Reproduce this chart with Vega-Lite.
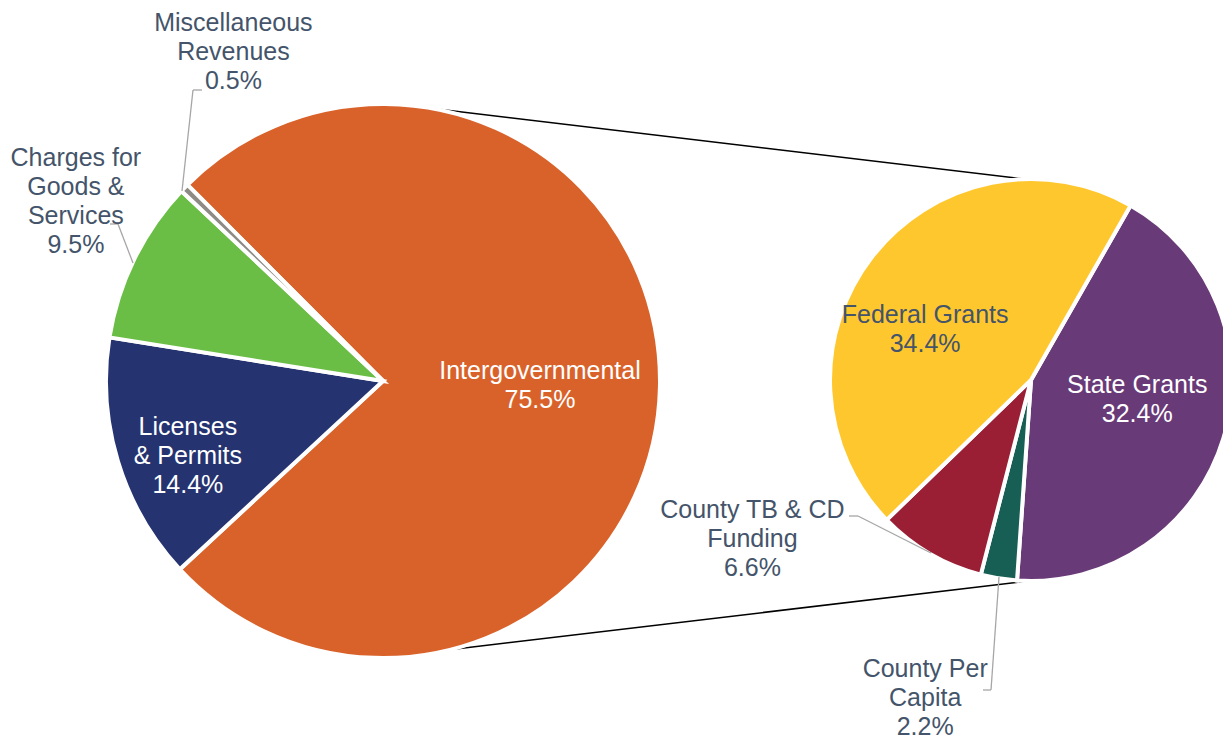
{
  "$schema": "https://vega.github.io/schema/vega-lite/v6.json",
  "width": 1223,
  "height": 738,
  "autosize": {"type": "none"},
  "padding": 0,
  "background": "white",
  "config": {"view": {"stroke": null}},
  "datasets": {
    "main": [
      {"cat": "Intergovernmental", "label": "Intergovernmental", "pct": 75.5, "ord": 1},
      {"cat": "Licenses & Permits", "label": "Licenses\n& Permits", "pct": 14.4, "ord": 2},
      {"cat": "Charges for Goods & Services", "label": "Charges for\nGoods &\nServices", "pct": 9.5, "ord": 3},
      {"cat": "Miscellaneous Revenues", "label": "Miscellaneous\nRevenues", "pct": 0.5, "ord": 4}
    ],
    "sub": [
      {"cat": "State Grants", "label": "State Grants", "pct": 32.4, "ord": 1},
      {"cat": "County Per Capita", "label": "County Per\nCapita", "pct": 2.2, "ord": 2},
      {"cat": "County TB & CD Funding", "label": "County TB & CD\nFunding", "pct": 6.6, "ord": 3},
      {"cat": "Federal Grants", "label": "Federal Grants", "pct": 34.4, "ord": 4}
    ],
    "one": [{}]
  },
  "resolve": {"scale": {"theta": "independent"}},
  "layer": [
    {
      "data": {"name": "one"},
      "mark": {"type": "rule", "color": "#000000", "strokeWidth": 1.5},
      "encoding": {
        "x": {"datum": 437, "type": "quantitative", "scale": {"domain": [0, 1223], "nice": false, "zero": false}, "axis": null},
        "y": {"datum": 109, "type": "quantitative", "scale": {"domain": [0, 738], "nice": false, "zero": false, "reverse": true}, "axis": null},
        "x2": {"datum": 1041},
        "y2": {"datum": 181}
      }
    },
    {
      "data": {"name": "one"},
      "mark": {"type": "rule", "color": "#000000", "strokeWidth": 1.5},
      "encoding": {
        "x": {"datum": 439, "type": "quantitative"},
        "y": {"datum": 651, "type": "quantitative"},
        "x2": {"datum": 1045},
        "y2": {"datum": 579}
      }
    },
    {
      "data": {"name": "main"},
      "mark": {"type": "arc", "radius": 277, "stroke": "white", "strokeWidth": 4},
      "encoding": {
        "x": {"datum": 383, "type": "quantitative"},
        "y": {"datum": 381, "type": "quantitative"},
        "theta": {"field": "pct", "type": "quantitative", "stack": true, "scale": {"range": [-0.7837, 5.4995]}},
        "order": {"field": "ord", "type": "quantitative"},
        "color": {"field": "cat", "type": "nominal", "legend": null,
          "scale": {"domain": ["Intergovernmental", "Licenses & Permits", "Charges for Goods & Services", "Miscellaneous Revenues", "State Grants", "County Per Capita", "County TB & CD Funding", "Federal Grants"],
                    "range": ["#D9622B", "#253370", "#6BBE45", "#8E8A85", "#693A78", "#175E54", "#9A1F35", "#FFC72E"]}}
      }
    },
    {
      "data": {"name": "sub"},
      "mark": {"type": "arc", "radius": 201, "stroke": "white", "strokeWidth": 4},
      "encoding": {
        "x": {"datum": 1031, "type": "quantitative"},
        "y": {"datum": 380, "type": "quantitative"},
        "theta": {"field": "pct", "type": "quantitative", "stack": true, "scale": {"range": [0.5184, 6.8016]}},
        "order": {"field": "ord", "type": "quantitative"},
        "color": {"field": "cat", "type": "nominal", "legend": null}
      }
    },
    {"data": {"name": "one"}, "mark": {"type": "rule", "color": "#A6A6A6", "strokeWidth": 1.3}, "encoding": {"x": {"datum": 110, "type": "quantitative"}, "y": {"datum": 224, "type": "quantitative"}, "x2": {"datum": 118}, "y2": {"datum": 224}}},
    {"data": {"name": "one"}, "mark": {"type": "rule", "color": "#A6A6A6", "strokeWidth": 1.3}, "encoding": {"x": {"datum": 118, "type": "quantitative"}, "y": {"datum": 224, "type": "quantitative"}, "x2": {"datum": 133}, "y2": {"datum": 263}}},
    {"data": {"name": "one"}, "mark": {"type": "rule", "color": "#A6A6A6", "strokeWidth": 1.3}, "encoding": {"x": {"datum": 202, "type": "quantitative"}, "y": {"datum": 90, "type": "quantitative"}, "x2": {"datum": 193}, "y2": {"datum": 90}}},
    {"data": {"name": "one"}, "mark": {"type": "rule", "color": "#A6A6A6", "strokeWidth": 1.3}, "encoding": {"x": {"datum": 193, "type": "quantitative"}, "y": {"datum": 90, "type": "quantitative"}, "x2": {"datum": 182}, "y2": {"datum": 191}}},
    {"data": {"name": "one"}, "mark": {"type": "rule", "color": "#A6A6A6", "strokeWidth": 1.3}, "encoding": {"x": {"datum": 849, "type": "quantitative"}, "y": {"datum": 516, "type": "quantitative"}, "x2": {"datum": 858}, "y2": {"datum": 516}}},
    {"data": {"name": "one"}, "mark": {"type": "rule", "color": "#A6A6A6", "strokeWidth": 1.3}, "encoding": {"x": {"datum": 858, "type": "quantitative"}, "y": {"datum": 516, "type": "quantitative"}, "x2": {"datum": 931}, "y2": {"datum": 553}}},
    {"data": {"name": "one"}, "mark": {"type": "rule", "color": "#A6A6A6", "strokeWidth": 1.3}, "encoding": {"x": {"datum": 983, "type": "quantitative"}, "y": {"datum": 690, "type": "quantitative"}, "x2": {"datum": 991}, "y2": {"datum": 690}}},
    {"data": {"name": "one"}, "mark": {"type": "rule", "color": "#A6A6A6", "strokeWidth": 1.3}, "encoding": {"x": {"datum": 991, "type": "quantitative"}, "y": {"datum": 690, "type": "quantitative"}, "x2": {"datum": 999}, "y2": {"datum": 577}}},
    {
      "data": {"name": "main"},
      "transform": [{"calculate": "datum.label + '\\n' + format(datum.pct, '.1f') + '%'", "as": "txt"}],
      "mark": {"type": "text", "radius": 157, "dy": -13, "font": "Liberation Sans", "fontSize": 25, "lineHeight": 29, "lineBreak": "\n", "align": "center", "baseline": "middle", "color": "white"},
      "encoding": {
        "x": {"datum": 383, "type": "quantitative"},
        "y": {"datum": 381, "type": "quantitative"},
        "theta": {"field": "pct", "type": "quantitative", "stack": true, "scale": {"range": [-0.7837, 5.4995]}},
        "order": {"field": "ord", "type": "quantitative"},
        "text": {"condition": {"test": "datum.cat === 'Intergovernmental'", "field": "txt"}, "value": ""}
      }
    },
    {
      "data": {"name": "main"},
      "transform": [{"calculate": "datum.label + '\\n' + format(datum.pct, '.1f') + '%'", "as": "txt"}],
      "mark": {"type": "text", "radius": 205, "dx": 1, "dy": -14, "font": "Liberation Sans", "fontSize": 25, "lineHeight": 29, "lineBreak": "\n", "align": "center", "baseline": "middle", "color": "white"},
      "encoding": {
        "x": {"datum": 383, "type": "quantitative"},
        "y": {"datum": 381, "type": "quantitative"},
        "theta": {"field": "pct", "type": "quantitative", "stack": true, "scale": {"range": [-0.7837, 5.4995]}},
        "order": {"field": "ord", "type": "quantitative"},
        "text": {"condition": {"test": "datum.cat === 'Licenses & Permits'", "field": "txt"}, "value": ""}
      }
    },
    {
      "data": {"name": "main"},
      "transform": [{"calculate": "datum.label + '\\n' + format(datum.pct, '.1f') + '%'", "as": "txt"}],
      "mark": {"type": "text", "radius": 340, "dx": -2, "dy": -73, "font": "Liberation Sans", "fontSize": 25, "lineHeight": 29, "lineBreak": "\n", "align": "center", "baseline": "middle", "color": "#44546A"},
      "encoding": {
        "x": {"datum": 383, "type": "quantitative"},
        "y": {"datum": 381, "type": "quantitative"},
        "theta": {"field": "pct", "type": "quantitative", "stack": true, "scale": {"range": [-0.7837, 5.4995]}},
        "order": {"field": "ord", "type": "quantitative"},
        "text": {"condition": {"test": "datum.cat === 'Charges for Goods & Services'", "field": "txt"}, "value": ""}
      }
    },
    {
      "data": {"name": "main"},
      "transform": [{"calculate": "datum.label + '\\n' + format(datum.pct, '.1f') + '%'", "as": "txt"}],
      "mark": {"type": "text", "radius": 330, "dx": 87, "dy": -128, "font": "Liberation Sans", "fontSize": 25, "lineHeight": 29, "lineBreak": "\n", "align": "center", "baseline": "middle", "color": "#44546A"},
      "encoding": {
        "x": {"datum": 383, "type": "quantitative"},
        "y": {"datum": 381, "type": "quantitative"},
        "theta": {"field": "pct", "type": "quantitative", "stack": true, "scale": {"range": [-0.7837, 5.4995]}},
        "order": {"field": "ord", "type": "quantitative"},
        "text": {"condition": {"test": "datum.cat === 'Miscellaneous Revenues'", "field": "txt"}, "value": ""}
      }
    },
    {
      "data": {"name": "sub"},
      "transform": [{"calculate": "datum.label + '\\n' + format(datum.pct, '.1f') + '%'", "as": "txt"}],
      "mark": {"type": "text", "radius": 111, "dy": -27, "font": "Liberation Sans", "fontSize": 25, "lineHeight": 29, "lineBreak": "\n", "align": "center", "baseline": "middle", "color": "white"},
      "encoding": {
        "x": {"datum": 1031, "type": "quantitative"},
        "y": {"datum": 380, "type": "quantitative"},
        "theta": {"field": "pct", "type": "quantitative", "stack": true, "scale": {"range": [0.5184, 6.8016]}},
        "order": {"field": "ord", "type": "quantitative"},
        "text": {"condition": {"test": "datum.cat === 'State Grants'", "field": "txt"}, "value": ""}
      }
    },
    {
      "data": {"name": "sub"},
      "transform": [{"calculate": "datum.label + '\\n' + format(datum.pct, '.1f') + '%'", "as": "txt"}],
      "mark": {"type": "text", "radius": 134, "dy": 17, "font": "Liberation Sans", "fontSize": 25, "lineHeight": 29, "lineBreak": "\n", "align": "center", "baseline": "middle", "color": "#44546A"},
      "encoding": {
        "x": {"datum": 1031, "type": "quantitative"},
        "y": {"datum": 380, "type": "quantitative"},
        "theta": {"field": "pct", "type": "quantitative", "stack": true, "scale": {"range": [0.5184, 6.8016]}},
        "order": {"field": "ord", "type": "quantitative"},
        "text": {"condition": {"test": "datum.cat === 'Federal Grants'", "field": "txt"}, "value": ""}
      }
    },
    {
      "data": {"name": "sub"},
      "transform": [{"calculate": "datum.label + '\\n' + format(datum.pct, '.1f') + '%'", "as": "txt"}],
      "mark": {"type": "text", "radius": 230, "dx": -163, "dy": -69, "font": "Liberation Sans", "fontSize": 25, "lineHeight": 29, "lineBreak": "\n", "align": "center", "baseline": "middle", "color": "#44546A"},
      "encoding": {
        "x": {"datum": 1031, "type": "quantitative"},
        "y": {"datum": 380, "type": "quantitative"},
        "theta": {"field": "pct", "type": "quantitative", "stack": true, "scale": {"range": [0.5184, 6.8016]}},
        "order": {"field": "ord", "type": "quantitative"},
        "text": {"condition": {"test": "datum.cat === 'County TB & CD Funding'", "field": "txt"}, "value": ""}
      }
    },
    {
      "data": {"name": "sub"},
      "transform": [{"calculate": "datum.label + '\\n' + format(datum.pct, '.1f') + '%'", "as": "txt"}],
      "mark": {"type": "text", "radius": 317, "dx": -55, "dy": -24, "font": "Liberation Sans", "fontSize": 25, "lineHeight": 29, "lineBreak": "\n", "align": "center", "baseline": "middle", "color": "#44546A"},
      "encoding": {
        "x": {"datum": 1031, "type": "quantitative"},
        "y": {"datum": 380, "type": "quantitative"},
        "theta": {"field": "pct", "type": "quantitative", "stack": true, "scale": {"range": [0.5184, 6.8016]}},
        "order": {"field": "ord", "type": "quantitative"},
        "text": {"condition": {"test": "datum.cat === 'County Per Capita'", "field": "txt"}, "value": ""}
      }
    }
  ]
}
